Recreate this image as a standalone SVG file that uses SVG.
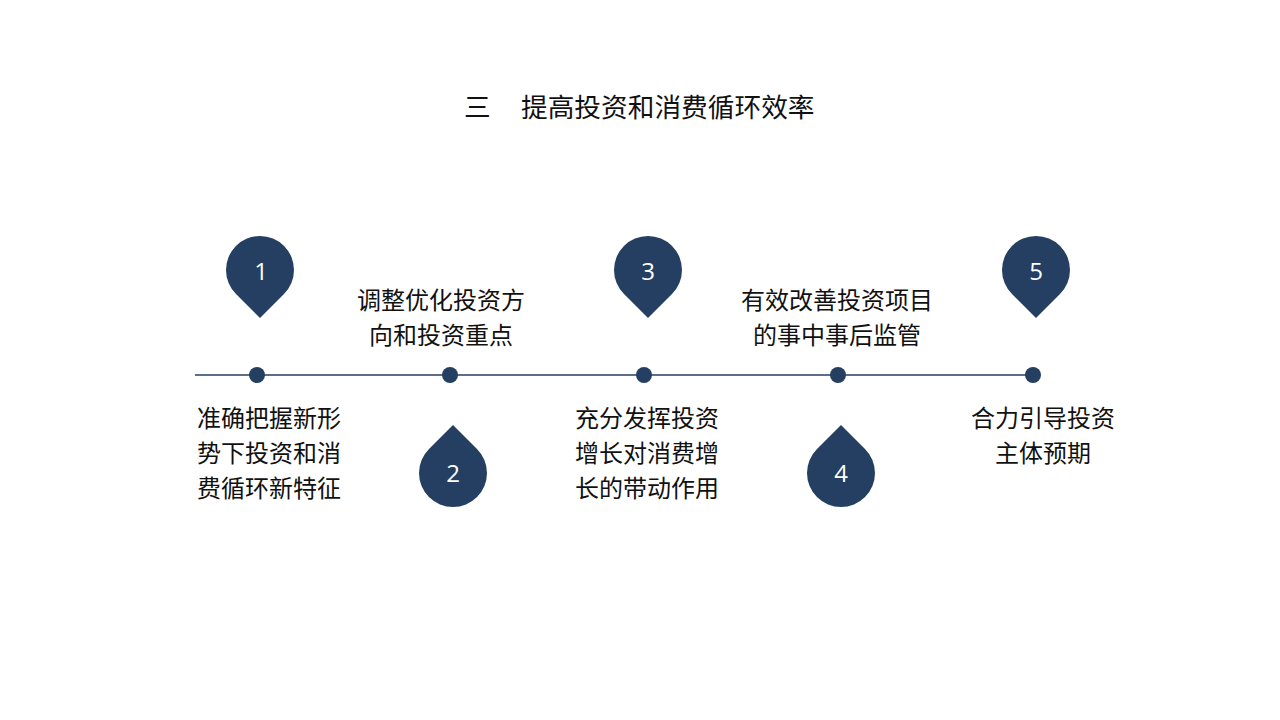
<svg xmlns="http://www.w3.org/2000/svg" width="1280" height="720" viewBox="0 0 1280 720">
<style>
.t{font-family:"Microsoft YaHei","Noto Sans CJK SC","Noto Sans",sans-serif;fill:#111;}
.title{font-size:26.7px;}
.b{font-size:24px;text-anchor:middle;}
.pin{fill:#243F62;}
.num{font-family:"Open Sans","Noto Sans",sans-serif;font-size:24px;fill:#fff;text-anchor:middle;}
.dot{fill:#243F62;}
</style>
<defs>
<path id="pinDown" d="M0 48 L-24 24 A34 34 0 1 1 24 24 Z"/>
<path id="pinUp" d="M0 -48 L-24 -24 A34 34 0 1 0 24 -24 Z"/>
</defs>
<rect width="1280" height="720" fill="#fff"/>
<text class="t title" x="464" y="117">三</text>
<text class="t title" x="521" y="117">提高投资和消费循环效率</text>
<g id="connectors">
<line x1="195" y1="375" x2="1040" y2="375" stroke="#243F62" stroke-width="1.3"/>
<circle class="dot" cx="257" cy="375" r="8"/>
<circle class="dot" cx="450" cy="375" r="8"/>
<circle class="dot" cx="644" cy="375" r="8"/>
<circle class="dot" cx="838" cy="375" r="8"/>
<circle class="dot" cx="1033" cy="375" r="8"/>
</g>
<g id="node1">
<use href="#pinDown" class="pin" x="260" y="270"/>
<text class="num" x="261" y="280">1</text>
<text class="t b" x="269" y="427">准确把握新形</text>
<text class="t b" x="269" y="462">势下投资和消</text>
<text class="t b" x="269" y="497">费循环新特征</text>
</g>
<g id="node2">
<use href="#pinUp" class="pin" x="453" y="473"/>
<text class="num" x="453" y="482">2</text>
<text class="t b" x="441" y="309">调整优化投资方</text>
<text class="t b" x="441" y="344">向和投资重点</text>
</g>
<g id="node3">
<use href="#pinDown" class="pin" x="648" y="270"/>
<text class="num" x="648" y="280">3</text>
<text class="t b" x="647" y="427">充分发挥投资</text>
<text class="t b" x="647" y="462">增长对消费增</text>
<text class="t b" x="647" y="497">长的带动作用</text>
</g>
<g id="node4">
<use href="#pinUp" class="pin" x="841" y="473"/>
<text class="num" x="841" y="482">4</text>
<text class="t b" x="837" y="309">有效改善投资项目</text>
<text class="t b" x="837" y="344">的事中事后监管</text>
</g>
<g id="node5">
<use href="#pinDown" class="pin" x="1036" y="270"/>
<text class="num" x="1036" y="280">5</text>
<text class="t b" x="1043" y="427">合力引导投资</text>
<text class="t b" x="1043" y="462">主体预期</text>
</g>
</svg>
